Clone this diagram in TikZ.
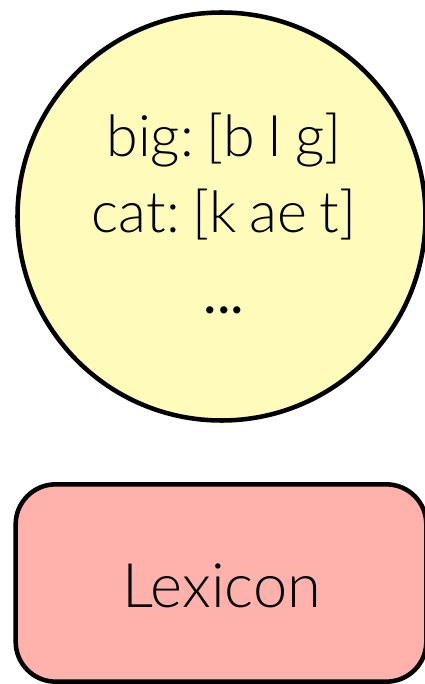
\documentclass[tikz,border=0pt]{standalone}
\usepackage{fontspec}
\setmainfont{Lato Light}
\newfontfamily\dotsfont{Lato}
\newcommand\tightspaces{\frenchspacing\spaceskip=0.22em plus 0.1em\relax\xspaceskip=0.22em plus 0.1em\relax}
\definecolor{lexyellow}{RGB}{255,251,187}
\definecolor{lexpink}{RGB}{255,178,172}
\begin{document}
\begin{tikzpicture}[x=0.75pt,y=-0.75pt,
  every node/.style={inner sep=0pt},
  lexcircle/.style={draw=black,line width=3.4pt,fill=lexyellow,circle,minimum size=306pt},
  lexbox/.style={draw=black,line width=3.4pt,fill=lexpink,rounded corners=30pt,minimum width=308pt,minimum height=148pt},
  bigtext/.style={font=\fontsize{43pt}{56pt}\selectfont,align=center}]
\useasboundingbox (0,0) rectangle (424,684);
\node[lexcircle] (mem) at (221.5,216.5) {};
\node[bigtext,anchor=base] (l1) at (224,157) {\tightspaces big: [b I g]};
\node[bigtext,anchor=base] (l2) at (224,232) {\tightspaces cat: [k ae t]};
\node[bigtext,anchor=base] (l3) at (224,313) {\dotsfont ...};
\node[lexbox] (lex) at (221,583) {};
\node[font=\fontsize{46pt}{54pt}\selectfont,anchor=base] (lext) at (222,607) {Lexicon};
\end{tikzpicture}
\end{document}
